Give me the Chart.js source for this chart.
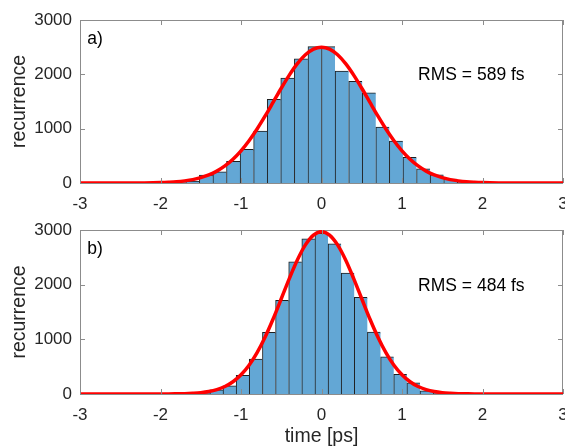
<!DOCTYPE html>
<html>
<head>
<meta charset="utf-8">
<script src="https://cdn.jsdelivr.net/npm/chart.js@4.4.1/dist/chart.umd.min.js"></script>
<style>
  html, body { margin: 0; padding: 0; background: #fff; }
  #wrap { position: relative; width: 565px; height: 448px; overflow: hidden; }
  canvas { position: absolute; left: 0; }
  #chartA { top: 0; }
  #chartB { top: 215px; }
</style>
</head>
<body>
<div id="wrap">
  <canvas id="chartA" width="565" height="215"></canvas>
  <canvas id="chartB" width="565" height="233"></canvas>
</div>
<script>
'use strict';

// a) histogram — bin centres [ps] and counts
const binsA   = [-1.770, -1.602, -1.433, -1.265, -1.096, -0.927, -0.759, -0.590, -0.422, -0.253, -0.084,
                  0.084,  0.253,  0.422,  0.590,  0.759,  0.927,  1.096,  1.265,  1.433,  1.602,  1.770];
const countsA = [10, 35, 145, 205, 398, 618, 954, 1541, 1932, 2287, 2510,
                 2510, 2060, 1870, 1660, 1030, 771, 474, 260, 150, 70, 20];

// b) histogram
const binsB   = [-1.468, -1.305, -1.142, -0.979, -0.816, -0.652, -0.489, -0.326, -0.163, 0,
                  0.163,  0.326,  0.489,  0.652,  0.816,  0.979,  1.142,  1.305,  1.468];
const countsB = [15, 75, 150, 341, 640, 1127, 1712, 2420, 2840, 2940,
                 2745, 2212, 1767, 1133, 682, 362, 205, 60, 15];

// Gaussian fit curves (red)
const fitTime = [-3, -2.5, -2.2, -2, -1.9, -1.8, -1.7, -1.6, -1.5, -1.4, -1.3, -1.2, -1.1, -1,
                 -0.9, -0.8, -0.7, -0.6, -0.5, -0.4, -0.3, -0.2, -0.1, 0,
                 0.1, 0.2, 0.3, 0.4, 0.5, 0.6, 0.7, 0.8, 0.9,
                 1, 1.1, 1.2, 1.3, 1.4, 1.5, 1.6, 1.7, 1.8, 1.9, 2, 2.2, 2.5, 3];
const fitA = [0, 0, 2, 8, 14, 23, 39, 62, 98, 148, 219, 314, 437, 592,
              778, 994, 1234, 1488, 1744, 1985, 2196, 2360, 2464, 2500,
              2464, 2360, 2196, 1985, 1744, 1488, 1234, 994, 778,
              592, 437, 314, 219, 148, 98, 62, 39, 23, 14, 8, 2, 0, 0];
const fitB = [0, 0, 0, 1, 1, 3, 6, 13, 24, 45, 81, 137, 224, 351,
              527, 758, 1044, 1377, 1742, 2111, 2451, 2727, 2907, 2970,
              2907, 2727, 2451, 2111, 1742, 1377, 1044, 758, 527,
              351, 224, 137, 81, 45, 24, 13, 6, 3, 1, 1, 0, 0, 0];

const xTicks = [-3, -2, -1, 0, 1, 2, 3];
const yTicks = [0, 1000, 2000, 3000];
const panelLabels = ['a)', 'b)'];
const rmsLabels   = ['RMS = 589 fs', 'RMS = 484 fs'];

const FONT = "'Liberation Sans', Arial, Helvetica, sans-serif";
const barFill  = 'rgb(99, 167, 213)';
const barEdge  = '#1e1e1e';
const fitRed   = '#ff0000';
const axisGray = '#8c8c8c';
const tickText = '#262626';

// Box round the plot area, inward tick marks and the two text labels
const framePlugin = {
  id: 'frame',
  beforeDatasetsDraw(chart) {
    const {ctx, chartArea: a} = chart;
    ctx.save();
    ctx.strokeStyle = axisGray;
    ctx.lineWidth = 1;
    ctx.strokeRect(a.left + 0.5, a.top + 0.5, a.right - a.left - 1, a.bottom - a.top);
    ctx.restore();
  },
  afterDatasetsDraw(chart, args, opts) {
    const {ctx, chartArea: a, scales: {x, y}} = chart;
    const len = 5;
    ctx.save();
    ctx.strokeStyle = axisGray;
    ctx.lineWidth = 1;
    ctx.beginPath();
    xTicks.forEach(function (v) {
      const px = Math.round(x.getPixelForValue(v)) + 0.5;
      ctx.moveTo(px, a.top); ctx.lineTo(px, a.top + len);
      ctx.moveTo(px, a.bottom); ctx.lineTo(px, a.bottom - len);
    });
    yTicks.forEach(function (v) {
      const py = Math.round(y.getPixelForValue(v)) + 0.5;
      ctx.moveTo(a.left, py); ctx.lineTo(a.left + len, py);
      ctx.moveTo(a.right, py); ctx.lineTo(a.right - len, py);
    });
    ctx.stroke();

    ctx.fillStyle = '#000';
    ctx.font = '17.5px ' + FONT;
    ctx.textBaseline = 'middle';
    ctx.textAlign = 'left';
    ctx.fillText(opts.label, x.getPixelForValue(-2.91), y.getPixelForValue(2650));
    ctx.fillText(opts.rms, x.getPixelForValue(1.2), y.getPixelForValue(1980));
    ctx.restore();
  }
};

function makePanel(id, bins, counts, fit, idx, xHeight, topPad, showTitle) {
  const last = bins.length - 1;
  return new Chart(document.getElementById(id), {
    type: 'bar',
    data: {
      datasets: [{
        type: 'line',
        data: fitTime.map(function (t, i) { return {x: t, y: fit[i]}; }),
        borderColor: fitRed,
        borderWidth: 3.5,
        pointRadius: 0,
        cubicInterpolationMode: 'monotone',
        order: 0
      }, {
        type: 'bar',
        data: bins.map(function (b, i) { return {x: b, y: counts[i]}; }),
        backgroundColor: barFill,
        borderColor: barEdge,
        borderWidth: function (c) {
          return {top: 1, left: 1, right: c.dataIndex === last ? 1 : 0, bottom: 0};
        },
        borderSkipped: false,
        barPercentage: 1,
        categoryPercentage: 1,
        order: 1
      }]
    },
    options: {
      responsive: false,
      animation: false,
      layout: { padding: { left: 0, right: 2, top: topPad, bottom: 0 } },
      plugins: {
        legend: { display: false },
        tooltip: { enabled: false },
        frame: { label: panelLabels[idx], rms: rmsLabels[idx] }
      },
      scales: {
        x: {
          type: 'linear',
          min: -3, max: 3,
          offset: false,
          grid: { display: false, drawTicks: false, offset: false },
          border: { display: false },
          afterBuildTicks: function (s) { s.ticks = xTicks.map(function (v) { return {value: v}; }); },
          ticks: {
            autoSkip: false, maxRotation: 0, padding: 11,
            color: tickText, font: { family: FONT, size: 17 },
            callback: function (v) { return String(v); }
          },
          title: {
            display: showTitle, text: 'time [ps]', color: tickText,
            font: { family: FONT, size: 19.5 }, padding: { top: 0, bottom: 0 }
          },
          afterFit: function (s) { s.height = xHeight; s.paddingLeft = 0; s.paddingRight = 0; }
        },
        y: {
          min: 0, max: 3000,
          grid: { display: false, drawTicks: false },
          border: { display: false },
          afterBuildTicks: function (s) { s.ticks = yTicks.map(function (v) { return {value: v}; }); },
          ticks: {
            padding: 8, color: tickText, font: { family: FONT, size: 17 },
            callback: function (v) { return String(v); }
          },
          title: {
            display: true, text: 'recurrence', color: tickText,
            font: { family: FONT, size: 19.5 }, padding: { top: 7.5, bottom: 0 }
          },
          afterFit: function (s) { s.width = 80; s.paddingTop = 0; s.paddingBottom = 0; }
        }
      }
    },
    plugins: [framePlugin]
  });
}

makePanel('chartA', binsA, countsA, fitA, 0, 32, 20, false);
makePanel('chartB', binsB, countsB, fitB, 1, 54, 15, true);
</script>
</body>
</html>
